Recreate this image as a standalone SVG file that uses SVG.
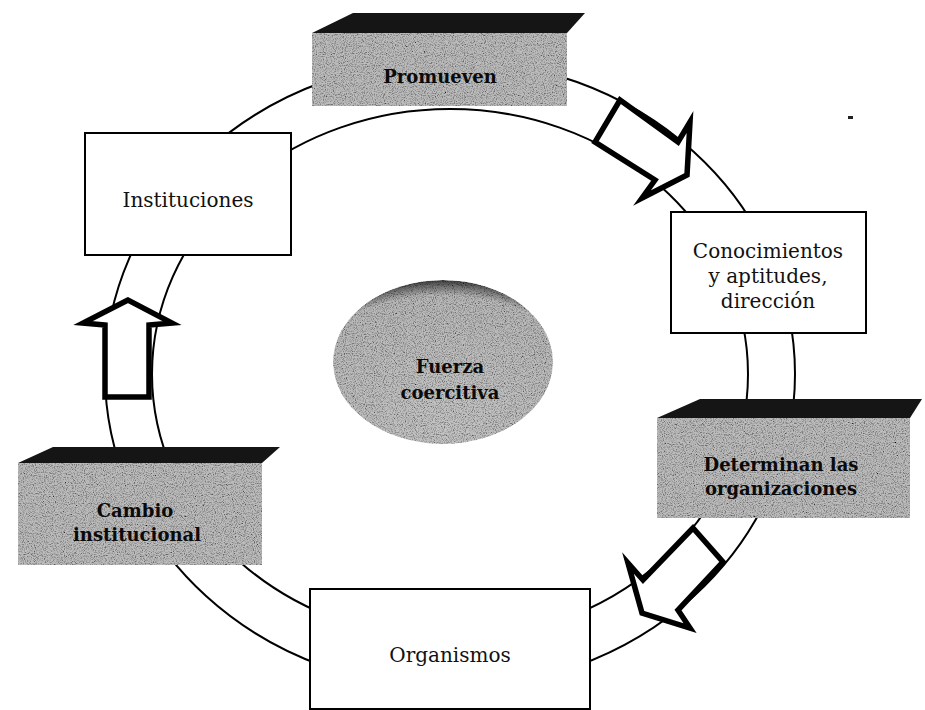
<svg xmlns="http://www.w3.org/2000/svg" width="925" height="710" viewBox="0 0 925 710">
<defs>
<style>
.ring{fill:none;stroke:#000;stroke-width:2}
.box{fill:#fff;stroke:#000;stroke-width:2}
.arr{fill:#fff;stroke:#000;stroke-width:5.5;stroke-linejoin:miter;stroke-miterlimit:6}
.top{fill:#151515}
.face{fill:#bcbcbc}
.t{font-family:"DejaVu Serif","Liberation Serif",serif;font-size:20px;fill:#111;text-anchor:middle}
.b{font-family:"DejaVu Serif","Liberation Serif",serif;font-size:18px;font-weight:bold;fill:#0a0a0a;text-anchor:middle}
</style>
<filter id="grain" x="0" y="0" width="1" height="1">
<feTurbulence type="fractalNoise" baseFrequency="0.9" numOctaves="2" seed="4" result="t"/>
<feColorMatrix in="t" type="saturate" values="0" result="g"/>
<feComponentTransfer in="g" result="c">
<feFuncR type="linear" slope="2.6" intercept="-0.45"/>
<feFuncG type="linear" slope="2.6" intercept="-0.45"/>
<feFuncB type="linear" slope="2.6" intercept="-0.45"/>
<feFuncA type="linear" slope="0" intercept="1"/>
</feComponentTransfer>
<feBlend in="SourceGraphic" in2="c" mode="multiply" result="m"/>
<feComposite in="m" in2="SourceGraphic" operator="in"/>
</filter>
<radialGradient id="dome" cx="0.5" cy="0.85" r="0.9">
<stop offset="0" stop-color="#c4c4c4"/>
<stop offset="0.84" stop-color="#b8b8b8"/>
<stop offset="0.91" stop-color="#6a6a6a"/>
<stop offset="0.97" stop-color="#161616"/>
<stop offset="1" stop-color="#111"/>
</radialGradient>
</defs>
<rect width="925" height="710" fill="#fff"/>
<g id="connectors">
<ellipse class="ring" cx="450" cy="374" rx="345" ry="314"/>
<ellipse class="ring" cx="450" cy="374" rx="298" ry="265"/>
</g>
<g id="promueven">
<polygon class="top" points="312,33 353,13 585,13 567,33"/>
<rect class="face" x="312" y="33" width="255" height="73" filter="url(#grain)"/>
<text class="b" x="440" y="83">Promueven</text>
</g>
<g id="arrow-top">
<polygon class="arr" points="620,100 678,142 690,122 687,175 642,198 655,180 595,142"/>
</g>
<g id="instituciones">
<rect class="box" x="85" y="133" width="206" height="122"/>
<text class="t" x="188" y="207">Instituciones</text>
</g>
<g id="conocimientos">
<rect class="box" x="671" y="212" width="195" height="121"/>
<text class="t" x="768" y="258">Conocimientos</text>
<text class="t" x="768" y="283">y aptitudes,</text>
<text class="t" x="768" y="308">dirección</text>
</g>
<g id="fuerza">
<ellipse cx="443" cy="362" rx="110" ry="82" fill="url(#dome)" filter="url(#grain)"/>
<text class="b" x="450" y="373">Fuerza</text>
<text class="b" x="450" y="399">coercitiva</text>
</g>
<g id="determinan">
<polygon class="top" points="657,418 700,399 922,399 910,418"/>
<rect class="face" x="657" y="418" width="253" height="100" filter="url(#grain)"/>
<text class="b" x="781" y="471">Determinan las</text>
<text class="b" x="781" y="495">organizaciones</text>
</g>
<g id="arrow-bottom">
<polygon class="arr" points="693,528 643,580 628,563 642,613 690,628 678,610 723,562"/>
</g>
<g id="arrow-left">
<polygon class="arr" points="128,300 83,323 105,325 105,397 149,397 149,325 172,323"/>
</g>
<g id="cambio">
<polygon class="top" points="18,463 53,447 280,447 262,463"/>
<rect class="face" x="18" y="463" width="244" height="102" filter="url(#grain)"/>
<text class="b" x="135" y="517">Cambio</text>
<text class="b" x="137" y="541">institucional</text>
</g>
<g id="organismos">
<rect class="box" x="310" y="589" width="280" height="120"/>
<text class="t" x="450" y="662">Organismos</text>
</g>
<rect x="848" y="116" width="5" height="3" fill="#222"/>
</svg>
